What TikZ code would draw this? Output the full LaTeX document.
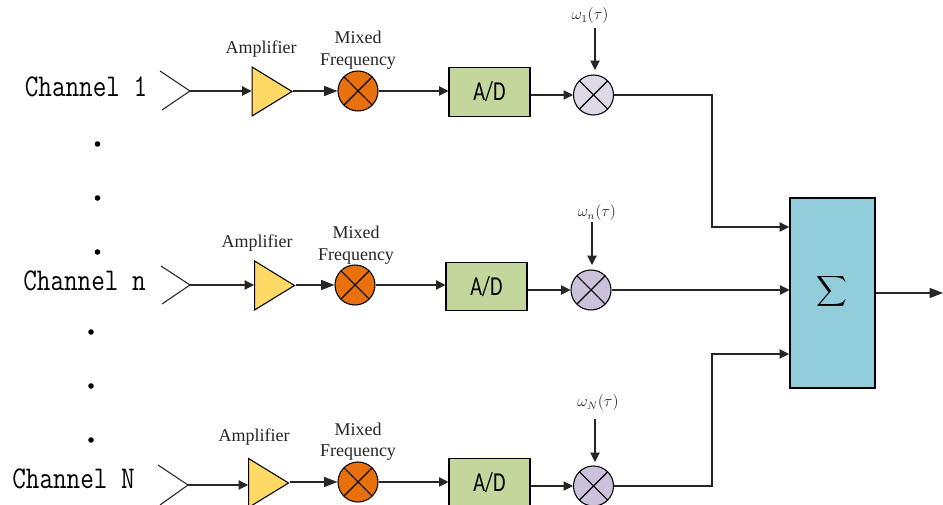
\documentclass[tikz,border=0pt]{standalone}
\usepackage{graphicx}
\usepackage{fontspec}
\setmainfont{Liberation Serif}
\newfontfamily\adfont{Carlito}
\usetikzlibrary{arrows.meta,shapes.geometric}
\definecolor{ampcol}{HTML}{FFD966}
\definecolor{mixcol}{HTML}{E8710E}
\definecolor{lilaclight}{HTML}{DDD9E8}
\definecolor{lilac}{HTML}{CCC1DA}
\definecolor{adcol}{HTML}{C3D69B}
\definecolor{sumcol}{HTML}{92CDDC}
\newcommand{\adtext}{\scalebox{0.8}[1.08]{A/D}}
\tikzset{
  x=0.75pt,y=-0.75pt,
  wire/.style={line width=0.8pt,draw=black!85},
  arr/.style={wire,-{Triangle[length=7pt,width=7pt]}},
  bigarr/.style={wire,-{Triangle[length=10pt,width=7.5pt]}},
  crossed/.style={circle,draw=black,line width=0.8pt,minimum size=30pt,inner sep=0pt,
    path picture={\draw[line width=0.8pt]
      (path picture bounding box.north west)--(path picture bounding box.south east)
      (path picture bounding box.north east)--(path picture bounding box.south west);}},
  mixer/.style={crossed,fill=mixcol},
  weight/.style={crossed,fill=lilac},
  amp/.style={isosceles triangle,isosceles triangle stretches=true,draw=black,line width=0.8pt,
    fill=ampcol,minimum width=36.75pt,minimum height=30pt,inner sep=0pt,anchor=lower side},
  adc/.style={rectangle,draw=black,line width=0.8pt,fill=adcol,minimum width=60.75pt,minimum height=36.5pt,
    inner sep=0pt,font=\adfont\fontsize{19}{20}\selectfont},
  chan/.style={font=\ttfamily\fontsize{19.8}{20}\selectfont,inner sep=0pt,anchor=base,yscale=1.2},
  lbl/.style={font=\fontsize{13.5}{14}\selectfont,inner sep=0pt,text=black!85,anchor=base},
  omg/.style={font=\fontsize{12}{13}\selectfont,inner sep=0pt,text=black!85},
  dotm/.style={circle,fill=black,minimum size=4.2pt,inner sep=0pt},
}
\begin{document}
\begin{tikzpicture}
\clip (0,0) rectangle (943,505);
\fill[white] (0,0) rectangle (943,505);
% sum box
\node[rectangle,draw=black,line width=0.8pt,fill=sumcol,minimum width=63.75pt,minimum height=142.5pt,inner sep=0pt] (sum) at (832.5,293) {};
\node[inner sep=0pt,scale=1.6] (sumsym) at (832,291) {$\displaystyle\sum$};
\coordinate (out) at (943,293);
\draw[bigarr] (sum.east |- out) -- (out);
% labels
\node[chan] (ch1) at (86,96.5) {Channel 1};
\node[chan] (chn) at (84.5,291) {Channel n};
\node[chan] (chN) at (73.5,488.5) {Channel N};
\foreach \n/\x/\y in {a/97.5/144,b/97.5/198,c/97.5/252,d/91/332,e/91/386,f/91/440}
  \node[dotm] (dot\n) at (\x,\y) {};
% row 1
\coordinate (tip1) at (190,91);
\coordinate (ant1a) at (160,71);
\coordinate (ant1b) at (162,110);
\draw[wire] (ant1a) -- (tip1) -- (ant1b);
\node[amp] (amp1) at (251.5,91.5) {};
\node[mixer] (mix1) at (358,91) {};
\node[adc] (ad1) at (489.5,92) {\adtext};
\node[weight,fill=lilaclight] (w1) at (593.5,95) {};
\node[lbl] (amplbl1) at (261,54) {Amplifier};
\node[lbl] (mixa1) at (358,44) {Mixed};
\node[lbl] (mixb1) at (358,66) {Frequency};
\node[omg] (om1) at (590,16) {$\omega_{1}(\tau)$};
\coordinate (omt1) at (595,28);
\draw[arr] (tip1) -- (tip1 -| amp1.lower side);
\draw[bigarr] (mix1.west -| amp1.apex) -- (mix1.west);
\draw[arr] (mix1.east) -- (mix1.east -| ad1.west);
\draw[arr] (w1.west -| ad1.east) -- (w1.west);
\draw[arr] (omt1) -- (595,70);
\coordinate (s1) at (789,227);
\draw[arr] (w1.east) -- (712,95) -- (712,227) -- (s1);
% row n
\coordinate (tipn) at (190,285);
\coordinate (antna) at (161,266);
\coordinate (antnb) at (162,304);
\draw[wire] (antna) -- (tipn) -- (antnb);
\node[amp] (ampn) at (254,285.5) {};
\node[mixer] (mixn) at (355,285) {};
\node[adc] (adn) at (486.5,286.5) {\adtext};
\node[weight] (wn) at (591,290) {};
\node[lbl] (amplbln) at (257,248) {Amplifier};
\node[lbl] (mixan) at (356,239) {Mixed};
\node[lbl] (mixbn) at (356,260.5) {Frequency};
\node[omg] (omn) at (597,213) {$\omega_{n}(\tau)$};
\coordinate (omtn) at (592,222);
\draw[arr] (tipn) -- (tipn -| ampn.lower side);
\draw[bigarr] (mixn.west -| ampn.apex) -- (mixn.west);
\draw[arr] (mixn.east) -- (mixn.east -| adn.west);
\draw[arr] (wn.west -| adn.east) -- (wn.west);
\draw[arr] (omtn) -- (592,265);
\draw[arr] (wn.east) -- (wn.east -| sum.west);
% row N
\coordinate (tipN) at (188,485);
\coordinate (antNa) at (158,465);
\coordinate (antNb) at (160,505);
\draw[wire] (antNa) -- (tipN) -- (antNb);
\node[amp] (ampN) at (248,483) {};
\node[mixer] (mixN) at (358,482) {};
\node[adc] (adN) at (489.5,482.5) {\adtext};
\node[weight] (wN) at (593.5,486) {};
\node[lbl] (amplblN) at (254,442) {Amplifier};
\node[lbl] (mixaN) at (358,436) {Mixed};
\node[lbl] (mixbN) at (358,457) {Frequency};
\node[omg] (omN) at (598,403) {$\omega_{N}(\tau)$};
\coordinate (omtN) at (595,419);
\draw[arr] (tipN) -- (tipN -| ampN.lower side);
\draw[bigarr] (mixN.west -| ampN.apex) -- (mixN.west);
\draw[arr] (mixN.east) -- (mixN.east -| adN.west);
\draw[arr] (wN.west -| adN.east) -- (wN.west);
\draw[arr] (omtN) -- (595,462);
\coordinate (sN) at (789,354);
\draw[arr] (wN.east) -- (712,486) -- (712,354) -- (sN);
\end{tikzpicture}
\end{document}
